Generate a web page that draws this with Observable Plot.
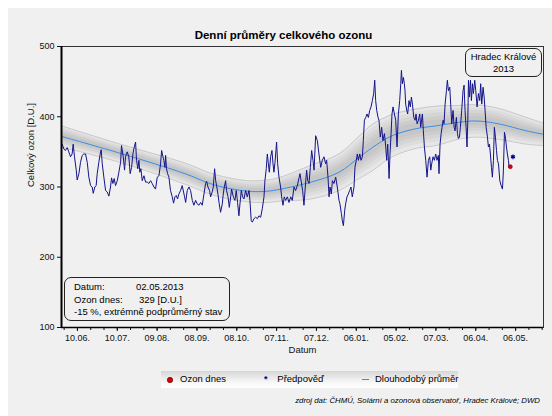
<!DOCTYPE html>
<html><head><meta charset="utf-8">
<script src="https://cdn.jsdelivr.net/npm/d3@7"></script>
<script src="https://cdn.jsdelivr.net/npm/@observablehq/plot@0.6"></script>
<style>
body{margin:0;background:#fff;}
#wrap{position:relative;width:552px;height:416px;overflow:hidden;font-family:"Liberation Sans",Arial,sans-serif;color:#000;}
#panel{position:absolute;left:8px;top:8px;right:0;bottom:0;background:#f0f0f0;}
#chart{position:absolute;left:0;top:0;}
.abs{position:absolute;white-space:nowrap;}
.box{position:absolute;box-sizing:border-box;border:1px solid #222;border-radius:7px;}
</style></head>
<body>
<div id="wrap">
  <div id="panel"></div>
  <div id="chart"></div>
  <div class="abs" style="left:0;width:567px;top:28px;line-height:14px;text-align:center;font-weight:bold;font-size:11.5px;">Denní průměry celkového ozonu</div>
  <div class="box" style="left:465px;top:48px;width:77px;height:29px;font-size:9.5px;">
    <div class="abs" style="left:0;width:75px;top:1.5px;line-height:12.6px;text-align:center;">Hradec Králové</div>
    <div class="abs" style="left:0;width:75px;top:14.1px;line-height:12.6px;text-align:center;">2013</div>
  </div>
  <div class="box" style="left:64px;top:277px;width:166px;height:44px;font-size:9.5px;">
    <div class="abs" style="left:9px;top:3.4px;line-height:12px;">Datum:</div>
    <div class="abs" style="left:71px;top:3.4px;line-height:12px;">02.05.2013</div>
    <div class="abs" style="left:9px;top:15.6px;line-height:12px;">Ozon dnes:</div>
    <div class="abs" style="left:74px;top:15.6px;line-height:12px;">329 [D.U.]</div>
    <div class="abs" style="left:9px;top:28px;line-height:12px;">-15 %, extrémně podprůměrný stav</div>
  </div>
  <div class="abs" style="left:161px;top:371px;width:297px;height:16.5px;background:linear-gradient(to bottom,#d6d6d6,#f6f6f6 65%,#ffffff);font-size:9.5px;">
    <div class="abs" style="left:6.3px;top:6px;width:3.6px;height:3.6px;border-radius:50%;background:#e00000;border:0.6px solid #700;"></div>
    <div class="abs" style="left:19px;top:2px;line-height:12px;">Ozon dnes</div>
    <div class="abs" style="left:103px;top:2px;line-height:12px;color:#00008b;font-weight:bold;font-size:9px;">*</div>
    <div class="abs" style="left:116.3px;top:2px;line-height:12px;">Předpověď</div>
    <div class="abs" style="left:200.7px;top:7.5px;width:7px;height:1.2px;background:#3a8ee6;"></div>
    <div class="abs" style="left:214px;top:2px;line-height:12px;">Dlouhodobý průměr</div>
  </div>
  <div class="abs" style="right:12px;top:396px;line-height:10px;font-size:7.8px;font-style:italic;">zdroj dat: ČHMÚ, Solární a ozonová observatoř, Hradec Králové; DWD</div>
</div>
<script>
// days since 29.05.2012 and daily total ozone [D.U.]
const ozoneDay = [
0.5,1.8,3.0,4.3,5.5,6.8,8.0,8.8,9.8,11.1,
11.8,13.1,14.3,15.6,16.8,18.1,19.4,20.6,21.9,23.1,
23.9,25.1,26.1,26.9,28.1,29.4,29.9,30.7,31.9,33.2,
34.4,35.7,36.9,37.7,38.7,39.7,40.7,42.0,43.2,44.5,
45.2,46.5,47.5,48.2,49.5,50.7,51.7,52.8,53.8,54.8,
55.8,56.5,57.5,58.3,59.0,59.8,60.8,62.1,63.3,64.6,
65.8,67.1,68.3,69.6,70.8,72.1,73.4,74.6,75.4,76.4,
77.1,77.9,78.4,79.1,79.9,80.9,82.1,83.4,84.4,85.4,
86.4,87.4,88.4,
89.7,90.9,92.7,93.5,94.7,96.0,97.2,98.5,99.7,101.0,
102.2,103.5,104.8,106.0,107.3,108.5,109.3,110.3,111.5,112.3,
113.5,114.3,115.3,116.1,116.8,117.8,118.8,119.8,121.1,121.8,
122.6,123.6,124.3,125.4,126.4,127.4,128.1,129.4,130.6,131.6,
132.6,133.6,134.4,135.4,136.4,137.4,138.7,139.9,141.2,141.9,
142.9,143.7,145.0,146.2,147.5,148.7,150.0,151.2,152.5,153.2,
154.2,155.0,155.8,156.5,157.5,158.5,159.3,160.0,160.8,161.5,
162.0,162.8,163.8,165.0,165.8,166.8,167.8,168.8,170.1,171.3,
172.6,173.8,175.1,176.3,177.6,178.9,179.6,180.6,181.6,182.6,183.6,
184.6,185.4,186.4,187.4,188.4,189.4,190.2,191.4,192.7,193.9,
195.2,196.4,197.7,198.9,199.7,200.7,201.5,202.2,203.2,204.0,
205.2,206.5,207.7,209.0,209.7,210.8,211.5,212.3,213.3,214.0,
215.0,216.0,217.0,218.0,219.0,220.3,221.0,222.0,222.8,223.6,
224.6,225.6,226.6,227.3,228.1,229.1,230.1,231.1,232.1,233.1,
234.1,235.1,235.9,236.6,237.4,238.4,239.1,240.1,241.1,242.1,
243.2,244.2,244.9,245.7,246.7,247.4,248.2,248.9,249.7,250.7,
251.7,252.7,253.7,254.7,255.5,256.0,256.7,257.5,258.2,258.7,
259.2,260.0,260.7,261.7,262.7,263.5,264.3,265.3,266.3,267.0,
267.8,268.8,269.8,270.5,271.8,272.5,273.3,274.3,275.3,
276.3,277.3,278.1,278.8,279.8,280.8,281.8,282.8,283.8,284.3,
285.1,285.9,286.6,287.4,288.1,288.9,289.9,290.6,291.4,292.4,
293.1,293.9,294.9,295.7,296.4,297.4,298.2,298.9,299.7,300.4,
301.4,302.4,303.2,303.9,304.7,305.4,306.0,306.5,307.2,308.0,
308.7,309.5,310.2,311.2,312.0,313.0,314.0,315.0,315.7,316.5,
317.5,318.3,319.0,319.8,320.8,321.5,322.3,323.0,323.8,324.5,
325.3,326.0,326.8,327.6,328.3,329.1,330.1,331.1,332.1,332.8,
333.6,334.3,335.1,335.8,336.6,337.1,338.0
];
const ozoneValue = [
361,354,352,356,350,343,347,361,343,324,
310,319,335,345,347,347,335,314,302,300,
291,300,302,319,335,350,353,333,314,295,
293,287,300,313,305,312,302,309,321,335,
359,343,324,343,350,343,319,328,347,357,
364,338,326,338,321,326,309,316,307,307,
305,309,305,300,297,314,316,333,352,343,
338,328,345,326,319,314,295,286,277,286,
288,283,290,
295,302,286,278,295,300,295,281,274,281,
276,274,278,274,290,305,308,300,295,286,
293,300,326,309,302,290,276,264,276,290,
300,309,295,286,271,286,297,286,281,295,
278,259,276,295,286,283,295,286,295,281,
252,250,255,257,255,259,257,269,286,309,
326,347,333,321,343,352,333,321,335,352,
364,333,314,300,286,274,286,281,286,278,
286,281,300,295,302,313,319,307,295,274,300,
324,309,305,328,352,338,324,373,366,347,
328,338,343,333,338,314,286,300,290,309,
305,314,300,281,276,262,252,245,267,276,
286,290,295,300,286,300,328,338,347,338,
347,338,343,366,395,399,404,399,409,414,
423,433,452,423,409,399,395,371,385,366,
376,357,338,361,312,347,376,404,414,404,
395,357,404,423,447,466,447,456,447,437,
418,409,404,423,414,428,418,399,395,404,
390,395,404,385,404,380,357,338,314,
338,343,324,333,343,338,347,338,345,319,
361,376,385,395,390,418,437,452,437,442,
418,390,409,385,380,399,376,369,371,385,
409,437,445,409,385,357,395,452,428,452,
423,447,433,452,437,414,433,423,447,418,
442,428,409,385,371,357,361,347,328,314,
338,385,371,352,338,333,309,302,297,324,
378,371,357,347,338,328,329
];
// long-term mean and its spread
const meanDay   = [0, 46, 93, 115, 140, 155, 165, 188, 209, 224, 234, 249, 267, 282, 299, 312, 329, 350, 363];
const meanValue = [372, 347, 319, 303, 294, 294, 297, 307, 321, 342, 356, 373, 383, 387, 392, 394, 390, 380, 375];
const meanSpread= [15, 13, 15, 15, 15, 16, 17, 24, 26, 30, 33, 30, 28, 28, 24, 23, 22, 19, 16];
// today and forecast
const todayDay = 338, todayValue = 329;
const forecastDay = 340, forecastValue = 343;
// axes
const yTicks = [100, 200, 300, 400, 500];
const xTickDates = ["2012-06-10","2012-07-10","2012-08-09","2012-09-08","2012-10-08","2012-11-07","2012-12-07","2013-01-06","2013-02-05","2013-03-07","2013-04-06","2013-05-06"];
const xTickLabels = ["10.06.","10.07.","09.08.","08.09.","08.10.","07.11.","07.12.","06.01.","05.02.","07.03.","06.04.","06.05."];
const startDate = "2012-05-29", endDate = "2013-05-27";

const t0 = new Date(startDate).getTime();
const toDate = d => new Date(t0 + d * 864e5);
const series = ozoneDay.map((d, i) => ({date: toDate(d), value: ozoneValue[i]}));
const meanRows = meanDay.map((d, i) => ({date: toDate(d), mean: meanValue[i], sd: meanSpread[i]}));
const xMajor = xTickDates.map(s => new Date(s));
const labelMap = new Map(xMajor.map((d, i) => [+d, xTickLabels[i]]));
const xDomain = [new Date(startDate), new Date(endDate)];
const xMinor = [];
for (let t = d3.utcDay.offset(xMajor[0], -10); t <= xDomain[1]; t = d3.utcDay.offset(t, 10)) xMinor.push(t);

const ks = [1, 0.82, 0.64, 0.46, 0.28];
const bands = ks.map(k => Plot.areaY(meanRows, {
  x: "date", y1: d => d.mean - k * d.sd, y2: d => d.mean + k * d.sd,
  curve: "catmull-rom", fill: "#7a7a7a", fillOpacity: 0.085
}));

const chart = Plot.plot({
  width: 552, height: 416,
  marginLeft: 61, marginRight: 9, marginTop: 46, marginBottom: 89,
  style: {background: "transparent", fontFamily: "Liberation Sans, Arial, sans-serif", fontSize: "9px", color: "#111"},
  x: {type: "utc", domain: xDomain},
  y: {domain: [100, 500]},
  marks: [
    ...bands,
    Plot.line(meanRows, {x: "date", y: d => d.mean + d.sd, curve: "catmull-rom", stroke: "#c8c8c8", strokeWidth: 1}),
    Plot.line(meanRows, {x: "date", y: d => d.mean - d.sd, curve: "catmull-rom", stroke: "#c8c8c8", strokeWidth: 1}),
    Plot.line(meanRows, {x: "date", y: "mean", curve: "catmull-rom", stroke: "#3a8ee6", strokeWidth: 1}),
    Plot.line(series, {x: "date", y: "value", stroke: "#14148a", strokeWidth: 1}),
    Plot.dot([{date: toDate(forecastDay), value: forecastValue}], {x: "date", y: "value", symbol: "asterisk", r: 2.2, stroke: "#00008b", strokeWidth: 1.2}),
    Plot.dot([{date: toDate(todayDay), value: todayValue}], {x: "date", y: "value", r: 2, fill: "#e00000", stroke: "#700", strokeWidth: 0.6}),
    Plot.frame({stroke: "#333"}),
    Plot.ruleX([xDomain[0]], {stroke: "#000", strokeWidth: 2}),
    Plot.ruleY([100], {stroke: "#000", strokeWidth: 1.5}),
    Plot.axisY(yTicks, {tickSize: 4, tickPadding: 3, label: null, fontSize: 9}),
    Plot.axisX(xMajor, {tickSize: 4, tickPadding: 3, tickFormat: d => labelMap.get(+d), label: null, fontSize: 9}),
    Plot.axisX(xMinor, {tickSize: 3, tickFormat: () => "", label: null}),
    Plot.text(["Celkový ozon [D.U.]"], {text: d => d, frameAnchor: "left", rotate: -90, dx: -31, fontSize: 9.5}),
    Plot.text(["Datum"], {text: d => d, frameAnchor: "bottom", dy: 25, fontSize: 9.5})
  ]
});
document.getElementById("chart").appendChild(chart);
</script>
</body></html>
